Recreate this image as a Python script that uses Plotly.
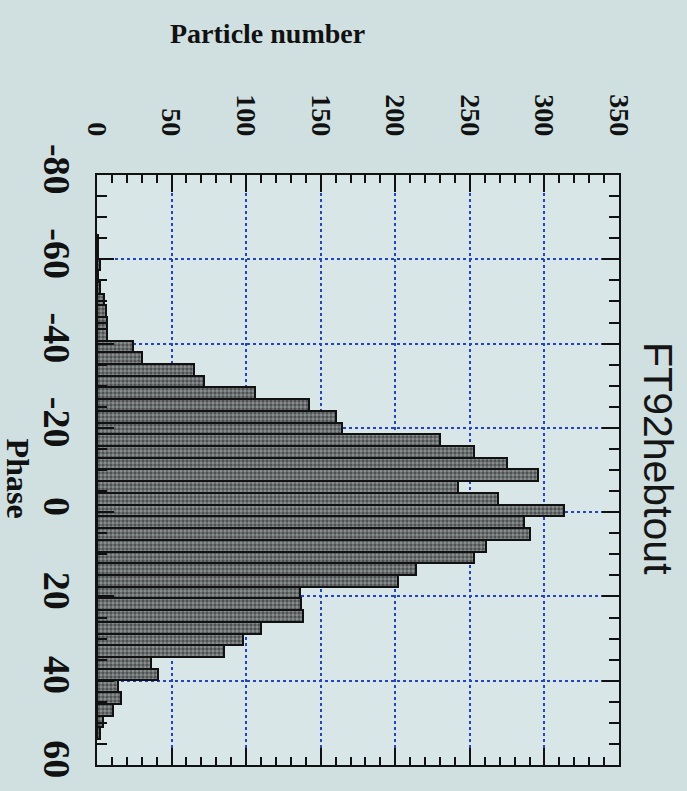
import plotly.graph_objects as go

# Phase histogram: bin centres (deg) and particle counts per bin
phase_centres = [
    -64.33, -61.55, -58.77, -55.99, -53.21, -50.43, -47.65, -44.87, -42.09,
    -39.31, -36.53, -33.75, -30.97, -28.19, -25.41, -22.63, -19.85, -17.07,
    -14.29, -11.51, -8.73, -5.95, -3.17, -0.39, 2.39, 5.17, 7.95, 10.73,
    13.51, 16.29, 19.07, 21.85, 24.63, 27.41, 30.19, 32.97, 35.75, 38.53,
    41.31, 44.09, 46.87, 49.65, 52.43,
]
particle_counts = [
    1, 1, 2, 1, 2, 5, 6, 7, 7,
    24, 30, 65, 72, 106, 142, 160, 164, 230,
    253, 275, 296, 242, 269, 313, 286, 290, 261, 253,
    214, 202, 136, 137, 138, 110, 98, 85, 36, 41,
    14, 16, 11, 4, 2,
]
bin_width = 2.78

x_ticks = [0, 50, 100, 150, 200, 250, 300, 350]
y_ticks = [-80, -60, -40, -20, 0, 20, 40, 60]

ink = "#111111"
grid_blue = "#2444c4"

fig = go.Figure(
    go.Bar(
        x=particle_counts,
        y=phase_centres,
        orientation="h",
        width=bin_width,
        marker=dict(
            color="#8d9393",
            line=dict(color=ink, width=2),
            pattern=dict(shape=".", fgcolor="#121212", size=4, solidity=0.6),
        ),
        showlegend=False,
    )
)

common_axis = dict(
    showline=True,
    linecolor=ink,
    linewidth=2,
    mirror="allticks",
    ticks="inside",
    ticklen=17,
    tickwidth=2,
    tickcolor=ink,
    tickangle=90,
    showgrid=True,
    gridcolor=grid_blue,
    gridwidth=2,
    griddash="dot",
    zeroline=False,
)

fig.update_xaxes(
    side="top",
    range=[0, 350],
    tickmode="array",
    tickvals=x_ticks,
    ticktext=[str(v) for v in x_ticks],
    tickfont=dict(family="Liberation Serif", size=28, color=ink, weight="bold"),
    ticklabelstandoff=27,
    minor=dict(dtick=10, tick0=0, ticks="inside", ticklen=8, tickwidth=2,
               tickcolor=ink, showgrid=False),
    **common_axis,
)
fig.update_yaxes(
    range=[60, -80],
    tickmode="array",
    tickvals=y_ticks,
    ticktext=[str(v) for v in y_ticks],
    tickfont=dict(family="Liberation Serif", size=38, color=ink, weight="bold"),
    ticklabelstandoff=5,
    minor=dict(dtick=5, tick0=0, ticks="inside", ticklen=10, tickwidth=2,
               tickcolor=ink, showgrid=False),
    **common_axis,
)

fig.add_annotation(
    text="Particle number", xref="paper", yref="paper", x=0.327, y=1.239,
    xanchor="center", yanchor="middle", showarrow=False,
    font=dict(family="Liberation Serif", size=28, color=ink, weight="bold"),
)
fig.add_annotation(
    text="Phase", xref="paper", yref="paper", x=-0.152, y=0.486,
    xanchor="center", yanchor="middle", showarrow=False, textangle=90,
    font=dict(family="Liberation Serif", size=32, color=ink, weight="bold"),
)
fig.add_annotation(
    text="FT92hebtout", xref="paper", yref="paper", x=1.075, y=0.52,
    xanchor="center", yanchor="middle", showarrow=False, textangle=90,
    font=dict(family="Liberation Sans", size=41, color="#151515"),
)

fig.update_layout(
    width=687,
    height=791,
    margin=dict(l=97, r=68, t=175, b=26),
    paper_bgcolor="#d0e0e1",
    plot_bgcolor="#d8e6e7",
    bargap=0,
)

fig.write_html("out.html")
